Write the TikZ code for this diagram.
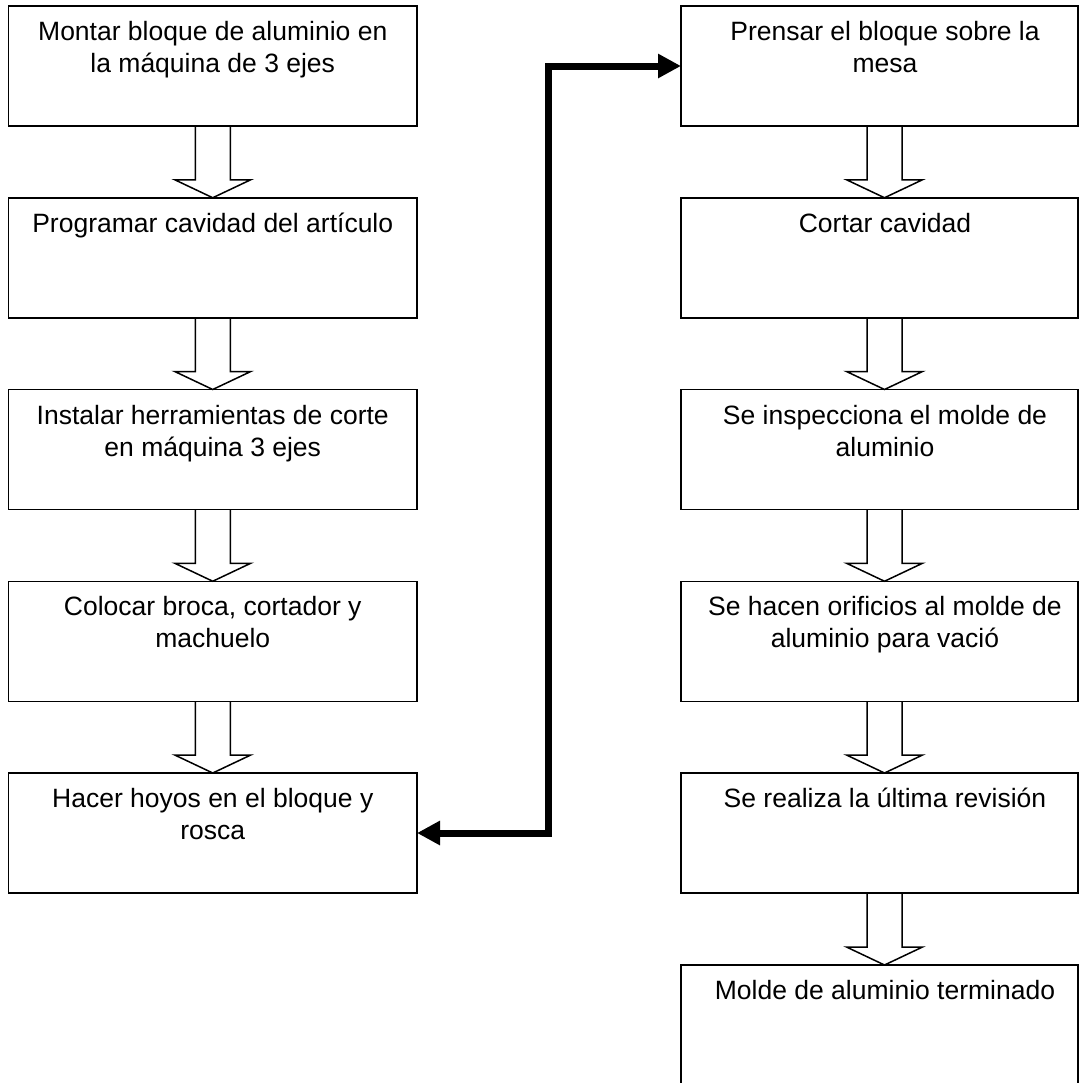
\documentclass[tikz,border=0pt]{standalone}
\usepackage{fontspec}
\setmainfont{Liberation Sans}
\usetikzlibrary{arrows.meta, positioning}

% text of a step: top aligned, fixed height
\newcommand{\steplines}[3][0pt]{\parbox[t][120pt][t]{#2}{\fontsize{26.5}{32}\selectfont\centering\leftskip=#1 plus 1fil\rightskip=0pt plus 1fil\rule{0pt}{34.5pt}#3}}
% hollow block arrow between two steps
\newcommand{\hollowdown}[3][0pt]{%
  \draw[hollow] ([xshift=#1-17.5pt]#2.south) -- ([xshift=#1-17.5pt, yshift=18pt]#3.north)
    -- ([xshift=#1-38pt, yshift=18pt]#3.north) -- ([xshift=#1]#3.north)
    -- ([xshift=#1+38pt, yshift=18pt]#3.north) -- ([xshift=#1+17.5pt, yshift=18pt]#3.north)
    -- ([xshift=#1+17.5pt]#2.south);}

\begin{document}
\begin{tikzpicture}[x=1pt, y=-1pt,
            box/.style={draw, rectangle, line width=1.5pt, inner sep=0pt, outer sep=0pt, anchor=north west},
            hollow/.style={draw, line width=1.5pt, line join=miter},
            link/.style={line width=7pt, {Triangle[length=23pt,width=23pt]}-{Triangle[length=23pt,width=23pt]}}]
            \useasboundingbox (0,0) rectangle (1084,1082);

            \node[box] (montar) at (8.5,6) {\steplines{408.5pt}{Montar bloque de aluminio en\\la máquina de 3 ejes}};
            \node[box] (programar) at (8.5,197.75) {\steplines{408.5pt}{Programar cavidad del artículo}};
            \node[box] (instalar) at (8.5,389.5) {\steplines{408.5pt}{Instalar herramientas de corte\\en máquina 3 ejes}};
            \node[box] (colocar) at (8.5,581.25) {\steplines{408.5pt}{Colocar broca, cortador y\\machuelo}};
            \node[box] (hacer) at (8.5,773) {\steplines{408.5pt}{Hacer hoyos en el bloque y\\rosca}};

            \node[box] (prensar) at (681,6) {\steplines[11pt]{397pt}{Prensar el bloque sobre la\\mesa}};
            \node[box] (cortar) at (681,197.75) {\steplines[11pt]{397pt}{Cortar cavidad}};
            \node[box] (inspeccion) at (681,389.5) {\steplines[11pt]{397pt}{Se inspecciona el molde de\\aluminio}};
            \node[box] (orificios) at (681,581.25) {\steplines[11pt]{397pt}{Se hacen orificios al molde de\\aluminio para vació}};
            \node[box] (revision) at (681,773) {\steplines[11pt]{397pt}{Se realiza la última revisión}};
            \node[box] (terminado) at (681,965) {\steplines[11pt]{397pt}{Molde de aluminio terminado}};

            \hollowdown{montar}{programar}
            \hollowdown{programar}{instalar}
            \hollowdown{instalar}{colocar}
            \hollowdown{colocar}{hacer}

            \hollowdown[5pt]{prensar}{cortar}
            \hollowdown[5pt]{cortar}{inspeccion}
            \hollowdown[5pt]{inspeccion}{orificios}
            \hollowdown[5pt]{orificios}{revision}
            \hollowdown[5pt]{revision}{terminado}

            \coordinate (turn) at (548.5,450);
            \draw[link] (hacer.east) -| (turn) |- (prensar.west);
        \end{tikzpicture}
\end{document}
